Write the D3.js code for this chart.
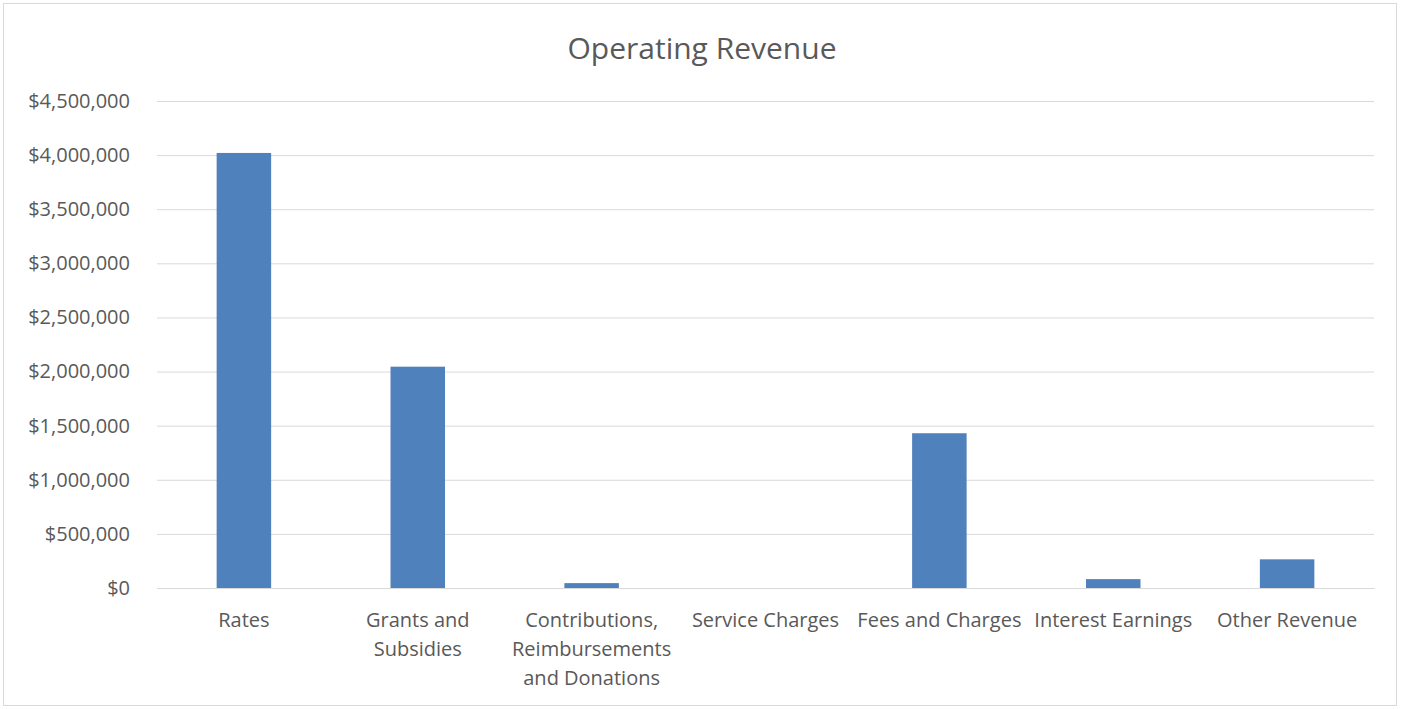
<!DOCTYPE html>
<html><head><meta charset="utf-8">
<script src="https://cdn.jsdelivr.net/npm/d3@7"></script>
<style>
html,body{margin:0;padding:0;background:#fff;}
svg{display:block;}
text{font-family:"Open Sans","Noto Sans",sans-serif;fill:#595959;}
</style></head>
<body>
<svg id="chart" width="1403" height="709"></svg>
<script>
const categories = ["Rates","Grants and Subsidies","Contributions, Reimbursements and Donations","Service Charges","Fees and Charges","Interest Earnings","Other Revenue"];
const categoryLines = [["Rates"],["Grants and","Subsidies"],["Contributions,","Reimbursements","and Donations"],["Service Charges"],["Fees and Charges"],["Interest Earnings"],["Other Revenue"]];
const values = [4020000, 2045000, 45000, 0, 1430000, 82000, 265000];
const yTicks = [0,500000,1000000,1500000,2000000,2500000,3000000,3500000,4000000,4500000];
const title = "Operating Revenue";

const svg = d3.select("#chart");
svg.append("rect").attr("x",3.5).attr("y",3.5).attr("width",1393).attr("height",702)
  .attr("fill","#fff").attr("stroke","#d9d9d9").attr("stroke-width",1);

const m = {left:157, right:1374, top:101, bottom:588};
const x = d3.scaleBand().domain(categories).range([m.left,m.right]).paddingInner(0.6865).paddingOuter(0.343);
const y = d3.scaleLinear().domain([0,4500000]).range([m.bottom,m.top]);

svg.append("text").attr("x",702).attr("y",59).attr("text-anchor","middle")
  .style("font-size","30px").text(title);

const fmt = v => "$" + d3.format(",")(v);
const yAxis = svg.append("g").attr("transform",`translate(${m.left},0)`)
  .call(d3.axisLeft(y).tickValues(yTicks).tickFormat(fmt).tickSize(-(m.right-m.left)).tickPadding(27));
yAxis.select(".domain").remove();
yAxis.selectAll(".tick line").attr("stroke","#d9d9d9").attr("stroke-width",1);
yAxis.selectAll(".tick text").style("font-size","20px").attr("fill","#595959");

svg.append("g").selectAll("rect").data(values).join("rect")
  .attr("x",(d,i)=>x(categories[i])).attr("width",x.bandwidth())
  .attr("y",d=>y(d)).attr("height",d=>y(0)-y(d)).attr("fill","#4f81bd");

const xAxis = svg.append("g").attr("transform",`translate(0,${m.bottom})`)
  .call(d3.axisBottom(x).tickSize(0).tickFormat(""));
xAxis.select(".domain").attr("stroke","#d9d9d9");
xAxis.selectAll(".tick").each(function(d,i){
  const t = d3.select(this).append("text").attr("text-anchor","middle").attr("y",39).style("font-size","20px").attr("fill","#595959");
  categoryLines[i].forEach((ln,j)=>{
    t.append("tspan").attr("x",0).attr("dy", j===0?0:29).text(ln);
  });
});
</script>
</body></html>
